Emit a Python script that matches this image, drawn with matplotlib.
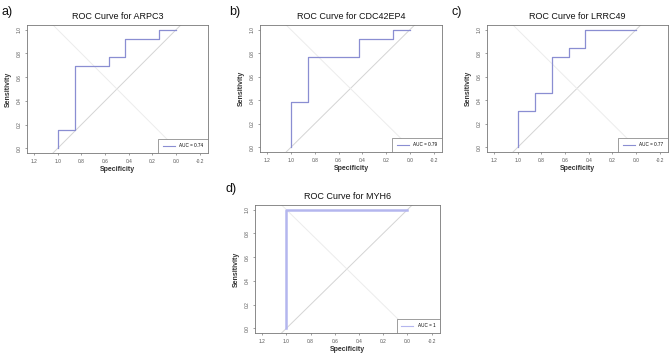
import matplotlib
matplotlib.use("Agg")
import matplotlib.pyplot as plt

plt.rcParams['font.family'] = ['Liberation Sans', 'DejaVu Sans']

genes = ["ARPC3", "CDC42EP4", "LRRC49", "MYH6"]
panel_tags = ["a)", "b)", "c)", "d)"]
auc_labels = ["AUC = 0.74", "AUC = 0.79", "AUC = 0.77", "AUC = 1"]

spec_arpc3 = [1.0, 1.0, 0.857, 0.857, 0.571, 0.571, 0.429, 0.429, 0.143, 0.143, 0.0]
sens_arpc3 = [0.0, 0.154, 0.154, 0.692, 0.692, 0.769, 0.769, 0.923, 0.923, 1.0, 1.0]

spec_cdc42ep4 = [1.0, 1.0, 0.857, 0.857, 0.429, 0.429, 0.143, 0.143, 0.0]
sens_cdc42ep4 = [0.0, 0.385, 0.385, 0.769, 0.769, 0.923, 0.923, 1.0, 1.0]

spec_lrrc49 = [1.0, 1.0, 0.857, 0.857, 0.714, 0.714, 0.571, 0.571, 0.429, 0.429, 0.0]
sens_lrrc49 = [0.0, 0.308, 0.308, 0.462, 0.462, 0.769, 0.769, 0.846, 0.846, 1.0, 1.0]

spec_myh6 = [1.0, 1.0, 0.0]
sens_myh6 = [0.0, 1.0, 1.0]

specs = [spec_arpc3, spec_cdc42ep4, spec_lrrc49, spec_myh6]
senss = [sens_arpc3, sens_cdc42ep4, sens_lrrc49, sens_myh6]

x_ticks = [1.2, 1.0, 0.8, 0.6, 0.4, 0.2, 0.0, -0.2]
y_ticks = [0.0, 0.2, 0.4, 0.6, 0.8, 1.0]

W, H = 669, 356
fig = plt.figure(figsize=(W / 100, H / 100), dpi=100)

# pixel boxes: left, top, right, bottom
boxes = [(27, 25, 208, 153), (260, 25, 442, 152), (487, 25, 668, 152), (255, 205, 440, 333)]
tag_pos = [(1, 12), (229, 12), (451, 12), (226, 189)]

for i, (gene, box) in enumerate(zip(genes, boxes)):
    l, t, r, b = box
    ax = fig.add_axes([l / W, 1 - b / H, (r - l) / W, (b - t) / H])
    ax.set_xlim(1.26, -0.27)
    ax.set_ylim(-0.04, 1.04)
    ax.axline((0, 1), (1, 0), color="#d4d4d4", lw=0.7, zorder=1)
    ax.axline((0, 0), (1, 1), color="#ececec", lw=0.7, zorder=1)
    if gene == "MYH6":
        ax.plot(specs[i], senss[i], color="#b4b6ee", lw=1.8, zorder=3, label=auc_labels[i])
    else:
        ax.plot(specs[i], senss[i], color="#8a8ed2", lw=0.9, zorder=3, label=auc_labels[i])
    ax.set_xticks(x_ticks)
    ax.set_xticklabels([f"{v:.1f}" for v in x_ticks])
    ax.set_yticks(y_ticks)
    ax.set_yticklabels([f"{v:.1f}" for v in y_ticks], rotation=90, va="center")
    ax.tick_params(labelsize=3.5, length=1.5, width=0.4, colors="#555555", pad=2.5)
    for s in ax.spines.values():
        s.set_color("#777777")
        s.set_linewidth(0.6)
    ax.set_xlabel("Specificity", fontsize=5, fontweight="bold", color="#333333", labelpad=2)
    ax.set_ylabel("Sensitivity", fontsize=5, fontweight="bold", color="#333333", labelpad=3)
    ax.set_title(f"ROC Curve for {gene}", fontsize=6.5, color="#111111", pad=4)
    leg = ax.legend(loc="lower right", borderaxespad=0, fontsize=3.3, fancybox=False,
                    framealpha=1, edgecolor="#777777", handlelength=2.6, borderpad=1.0,
                    handletextpad=1.0)
    leg.get_frame().set_linewidth(0.5)
    for ln in leg.get_lines():
        ln.set_linewidth(0.8)
    tx, ty = tag_pos[i]
    fig.text(tx / W, 1 - ty / H, panel_tags[i], fontsize=9, va="center", ha="left", color="#111111")

fig.savefig("out.png", dpi=100)
